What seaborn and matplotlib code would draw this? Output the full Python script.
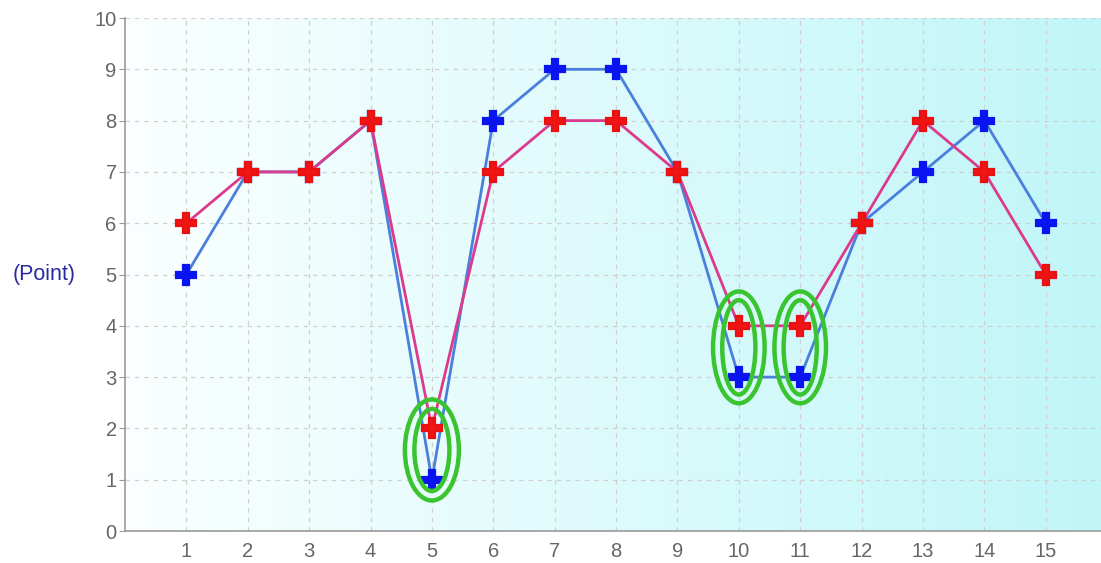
import numpy as np
import pandas as pd
import matplotlib
matplotlib.use("Agg")
import matplotlib.pyplot as plt
from matplotlib.patches import Ellipse
from matplotlib.colors import LinearSegmentedColormap
import seaborn as sns

x_vals = list(range(1, 16))
blue_vals = [5, 7, 7, 8, 1, 8, 9, 9, 7, 3, 3, 6, 7, 8, 6]
red_vals = [6, 7, 7, 8, 2, 7, 8, 8, 7, 4, 4, 6, 8, 7, 5]
y_ticks = list(range(0, 11))
highlight_x = [5, 10, 11]

sns.set_style("white")
plt.rcParams['font.family'] = ['Liberation Sans', 'DejaVu Sans']

fig = plt.figure(figsize=(11.01, 5.63), dpi=100)
ax = fig.add_axes([0.1135, 0.0568, 0.8865, 0.9112])

# gradient background
grad = np.linspace(0, 1, 256).reshape(1, -1)
cmap = LinearSegmentedColormap.from_list("bg", ["#fbffff", "#c0f6f8"])
ax.imshow(grad, aspect="auto", cmap=cmap, extent=[0, 1, 0, 1],
          transform=ax.transAxes, zorder=0)

df_b = pd.DataFrame({"x": x_vals, "y": blue_vals})
df_r = pd.DataFrame({"x": x_vals, "y": red_vals})

sns.lineplot(data=df_b, x="x", y="y", ax=ax, color="#4a7fdc", linewidth=2.0,
             marker="P", markersize=14, markerfacecolor="#0a14f0",
             markeredgecolor="#0a14f0", markeredgewidth=1.6, zorder=3)
sns.lineplot(data=df_r, x="x", y="y", ax=ax, color="#dc3a8c", linewidth=2.0,
             marker="P", markersize=14, markerfacecolor="#f01414",
             markeredgecolor="#e81010", markeredgewidth=1.6, zorder=4)

# highlight ellipses
for hx in highlight_x:
    i = x_vals.index(hx)
    cy = (blue_vals[i] + red_vals[i]) / 2 + 0.08
    if hx == 5:
        w_out, h_out, w_in, h_in = 0.88, 1.97, 0.57, 1.6
    else:
        w_out, h_out, w_in, h_in = 0.84, 2.18, 0.54, 1.84
    ax.add_patch(Ellipse((hx, cy), w_out, h_out, fill=False, edgecolor="#3ac430",
                         linewidth=3.2, zorder=5))
    ax.add_patch(Ellipse((hx, cy), w_in, h_in, fill=False, edgecolor="#3ac430",
                         linewidth=3.2, zorder=5))

ax.set_xlim(0, 15.9)
ax.set_ylim(0, 10)
ax.set_xticks(x_vals)
ax.set_yticks(y_ticks)
ax.grid(True, linestyle=(0, (3.5, 4)), color="#cfcfcf", linewidth=0.9, zorder=1)
ax.set_axisbelow(True)
for s in ["top", "right"]:
    ax.spines[s].set_visible(False)
for s in ["left", "bottom"]:
    ax.spines[s].set_color("#999999")
    ax.spines[s].set_linewidth(1.2)
ax.tick_params(axis="y", length=4, color="#999999", labelsize=14.5, labelcolor="#666666", pad=2, left=True)
ax.tick_params(axis="x", length=0, labelsize=14.5, labelcolor="#666666", pad=8)
ax.set_xlabel("")
ax.set_ylabel("(Point)", rotation=0, fontsize=15.5, color="#2a2aa0", va="center", ha="left")
ax.yaxis.set_label_coords(-0.115, 0.5)

fig.savefig("out.png", dpi=100)
